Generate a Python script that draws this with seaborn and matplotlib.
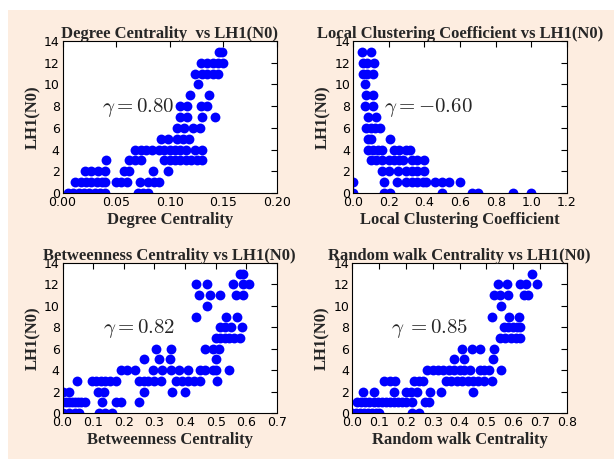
import numpy as np
import pandas as pd
import matplotlib
matplotlib.use('Agg')
import matplotlib.pyplot as plt
import seaborn as sns
from matplotlib.patches import Rectangle

sns.set_style('white')
plt.rcParams['font.family'] = ['DejaVu Sans']
plt.rcParams['mathtext.fontset'] = 'cm'

degree_rows = {
    0: [0.005, 0.01, 0.015, 0.02, 0.025, 0.03, 0.035, 0.04, 0.07, 0.075, 0.08],
    1: [0.012, 0.017, 0.022, 0.027, 0.032, 0.037, 0.04, 0.05, 0.055, 0.06, 0.072, 0.08, 0.085, 0.09],
    2: [0.021, 0.027, 0.033, 0.04, 0.057, 0.062, 0.084, 0.098],
    3: [0.041, 0.062, 0.068, 0.073, 0.095, 0.1, 0.105, 0.11, 0.115, 0.12, 0.125, 0.13],
    4: [0.068, 0.073, 0.078, 0.083, 0.09, 0.095, 0.1, 0.105, 0.11, 0.115, 0.124, 0.13],
    5: [0.092, 0.098, 0.107, 0.112, 0.118],
    6: [0.107, 0.113, 0.122, 0.128],
    7: [0.11, 0.116, 0.13, 0.142],
    8: [0.11, 0.116, 0.129, 0.135],
    9: [0.119, 0.137],
    10: [0.126],
    11: [0.124, 0.13, 0.135, 0.14, 0.145],
    12: [0.129, 0.135, 0.14, 0.145, 0.15],
    13: [0.146, 0.149],
}
clustering_rows = {
    0: [0.0, 0.175, 0.21, 0.5, 0.665, 0.7, 0.9, 1.0],
    1: [0.0, 0.174, 0.247, 0.3, 0.33, 0.36, 0.39, 0.41, 0.46, 0.5, 0.54, 0.6],
    2: [0.16, 0.2, 0.25, 0.3, 0.33, 0.36, 0.4],
    3: [0.1, 0.13, 0.16, 0.2, 0.23, 0.26, 0.28, 0.33, 0.36, 0.4],
    4: [0.085, 0.11, 0.14, 0.16, 0.23, 0.26, 0.3, 0.32],
    5: [0.085, 0.1, 0.21],
    6: [0.075, 0.1, 0.125, 0.15],
    7: [0.085, 0.13],
    8: [0.065, 0.11],
    9: [0.075, 0.11],
    10: [0.065],
    11: [0.055, 0.08, 0.11],
    12: [0.055, 0.08, 0.12],
    13: [0.05, 0.1],
}
betweenness_rows = {
    0: [0.0, 0.02, 0.04, 0.055, 0.12, 0.14, 0.16],
    1: [0.0, 0.01, 0.02, 0.03, 0.04, 0.05, 0.06, 0.075, 0.13, 0.175, 0.19, 0.25],
    2: [0.0, 0.022, 0.115, 0.135, 0.265, 0.357, 0.4],
    3: [0.048, 0.095, 0.11, 0.125, 0.14, 0.155, 0.175, 0.25, 0.265, 0.28, 0.3, 0.32,
        0.37, 0.39, 0.41, 0.43, 0.45, 0.505],
    4: [0.19, 0.21, 0.235, 0.295, 0.325, 0.355, 0.38, 0.41, 0.45, 0.465, 0.49, 0.5, 0.545],
    5: [0.265, 0.315, 0.35, 0.5],
    6: [0.305, 0.355, 0.465, 0.49, 0.51],
    7: [0.5, 0.515, 0.53, 0.545, 0.56, 0.58],
    8: [0.515, 0.53, 0.55, 0.585],
    9: [0.435, 0.535, 0.57],
    10: [0.47],
    11: [0.445, 0.48, 0.515, 0.565, 0.59],
    12: [0.435, 0.47, 0.555, 0.59, 0.61],
    13: [0.58, 0.59],
}
randomwalk_rows = {
    0: [0.0, 0.015, 0.03, 0.045, 0.06, 0.075, 0.09, 0.1, 0.225, 0.25],
    1: [0.02, 0.035, 0.05, 0.065, 0.08, 0.095, 0.11, 0.125, 0.14, 0.155, 0.17, 0.185,
        0.2, 0.225, 0.27, 0.285],
    2: [0.04, 0.08, 0.155, 0.2, 0.22, 0.24, 0.29, 0.33, 0.45],
    3: [0.12, 0.14, 0.16, 0.23, 0.25, 0.265, 0.35, 0.37, 0.39, 0.41, 0.43, 0.45, 0.47, 0.49, 0.52],
    4: [0.28, 0.3, 0.32, 0.34, 0.36, 0.38, 0.4, 0.415, 0.44, 0.475, 0.49, 0.51, 0.555],
    5: [0.38, 0.415, 0.525],
    6: [0.41, 0.445, 0.475, 0.53],
    7: [0.55, 0.57, 0.59, 0.61, 0.625],
    8: [0.565, 0.58, 0.6, 0.615, 0.625],
    9: [0.52, 0.585, 0.62],
    10: [0.555],
    11: [0.53, 0.55, 0.58, 0.64, 0.655],
    12: [0.545, 0.578, 0.625, 0.647, 0.688],
    13: [0.668],
}

titles = ['Degree Centrality  vs LH1(N0)', 'Local Clustering Coefficient vs LH1(N0)',
          'Betweenness Centrality vs LH1(N0)', 'Random walk Centrality vs LH1(N0)']
xlabels = ['Degree Centrality', 'Local Clustering Coefficient',
           'Betweenness Centrality', 'Random walk Centrality']
gammas = [r'$\gamma=0.80$', r'$\gamma=-0.60$', r'$\gamma=0.82$', r'$\gamma\;{=}0.85$']
gamma_x = [0.037, 0.174, 0.132, 0.146]
xmax = [0.2, 1.2, 0.7, 0.8]
xstep = [0.05, 0.2, 0.1, 0.1]
xfmt = ['%.2f', '%.1f', '%.1f', '%.1f']
all_rows = [degree_rows, clustering_rows, betweenness_rows, randomwalk_rows]


def to_frame(rows):
    xs, ys = [], []
    for level, vals in rows.items():
        xs += vals
        ys += [level] * len(vals)
    return pd.DataFrame({'x': xs, 'y': ys})


fig = plt.figure(figsize=(6.14, 4.59), dpi=100, facecolor='white')
fig.patches.append(Rectangle((8 / 614, 0), 1, 1 - 10 / 459, transform=fig.transFigure,
                             facecolor='#FDEDE0', edgecolor='none', zorder=-10))

positions = [[0.1018, 0.5795, 0.3493, 0.3312], [0.5749, 0.5795, 0.3485, 0.3312],
             [0.1018, 0.1002, 0.3493, 0.3268], [0.5733, 0.1002, 0.3502, 0.3268]]

serif = {'family': 'Liberation Serif', 'weight': 'bold', 'size': 12}

for i in range(4):
    ax = fig.add_axes(positions[i])
    ax.set_facecolor('white')
    df = to_frame(all_rows[i])
    sns.scatterplot(data=df, x='x', y='y', ax=ax, color='#0000FF', s=50, linewidth=0)
    ax.set_xlim(0, xmax[i])
    ax.set_ylim(0, 14)
    ax.set_xticks(np.arange(0, xmax[i] + 1e-9, xstep[i]))
    ax.set_yticks(range(0, 15, 2))
    ax.xaxis.set_major_formatter(matplotlib.ticker.FormatStrFormatter(xfmt[i]))
    ax.tick_params(direction='in', top=True, right=True, length=4, width=0.8,
                   labelsize=9, pad=2, colors='black')
    for sp in ax.spines.values():
        sp.set_color('black')
        sp.set_linewidth(0.8)
    ax.set_title(titles[i], fontdict=serif, pad=2)
    ax.set_xlabel(xlabels[i], fontdict=serif, labelpad=2)
    ax.set_ylabel('LH1(N0)', fontdict=serif, labelpad=2)
    ax.text(gamma_x[i], 7.9, gammas[i], fontsize=15, va='center', ha='left')

fig.savefig('out.png', dpi=100, facecolor=fig.get_facecolor())
